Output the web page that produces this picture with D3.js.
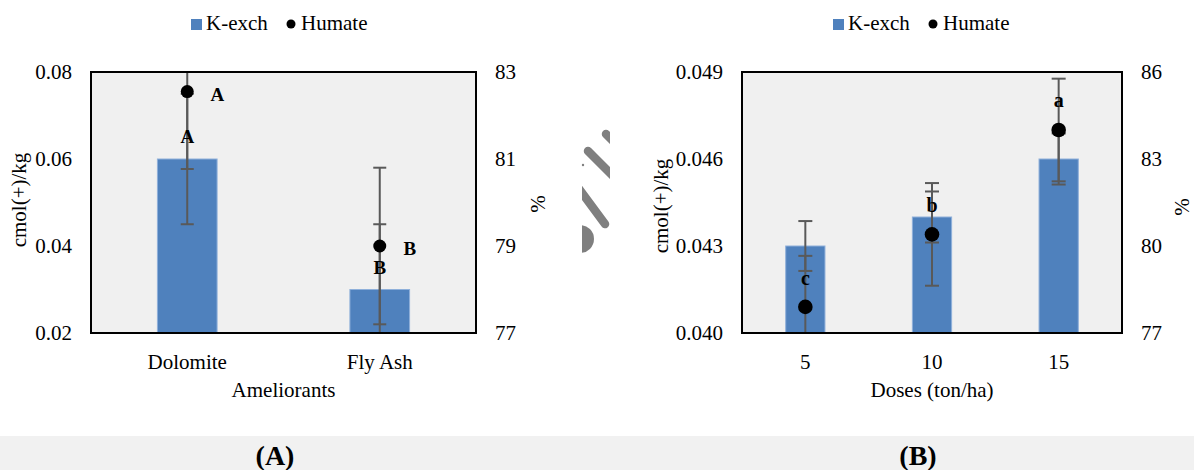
<!DOCTYPE html>
<html>
<head>
<meta charset="utf-8">
<script src="https://cdn.jsdelivr.net/npm/d3@7"></script>
<style>
  html, body { margin: 0; padding: 0; background: #fff; }
  svg { display: block; }
  text { font-family: "Liberation Serif", "Times New Roman", serif; fill: #000; }
</style>
</head>
<body>
<svg id="fig" width="1194" height="470"></svg>
<script>
// ---- Panel A: ameliorants ----
const ameliorants = ["Dolomite", "Fly Ash"];
const kExchA = [0.06, 0.03];
const kExchErrA = [0.015, 0.015];
const humateA = [82.55, 79.0];
const humateErrA = [1.78, 1.8];
const kLetterA = ["A", "B"];
const hLetterA = ["A", "B"];
const leftTicksA = [0.02, 0.04, 0.06, 0.08];
const rightTicksA = [77, 79, 81, 83];

// ---- Panel B: doses ----
const doses = ["5", "10", "15"];
const kExchB = [0.043, 0.044, 0.046];
const kExchErrB = [0.00086, 0.00088, 0.00088];
const humateB = [77.9, 80.4, 84.0];
const humateErrB = [1.76, 1.77, 1.77];
const hLetterB = ["c", "b", "a"];
const leftTicksB = [0.040, 0.043, 0.046, 0.049];
const rightTicksB = [77, 80, 83, 86];

const svg = d3.select("#fig");
const BAR = "#4f81bd", ERR = "#595959";

// caption strip along the bottom
svg.append("rect").attr("x", 0).attr("y", 436).attr("width", 1194).attr("height", 34).attr("fill", "#f1f1f1");

function panel(o) {
  const g = svg.append("g");
  const { x0, x1, y0, y1 } = o.box;
  const x = d3.scaleBand().domain(o.cats).range([x0, x1]).paddingInner(0.69).paddingOuter(0.345);
  const yL = d3.scaleLinear().domain(d3.extent(o.leftTicks)).range([y1, y0]);
  const yR = d3.scaleLinear().domain(d3.extent(o.rightTicks)).range([y1, y0]);

  const clipId = "clip" + o.id;
  svg.append("defs").append("clipPath").attr("id", clipId)
    .append("rect").attr("x", x0).attr("y", y0).attr("width", x1 - x0).attr("height", y1 - y0);

  g.append("rect").attr("x", x0).attr("y", y0).attr("width", x1 - x0).attr("height", y1 - y0).attr("fill", "#f0f0f0");

  const inner = g.append("g").attr("clip-path", `url(#${clipId})`);
  const cx = d => x(d) + x.bandwidth() / 2;

  // K-exch bars
  inner.selectAll("rect.bar").data(o.cats).join("rect").attr("class", "bar")
    .attr("x", d => x(d)).attr("width", x.bandwidth())
    .attr("y", (d, i) => yL(o.k[i])).attr("height", (d, i) => y1 - yL(o.k[i]))
    .attr("fill", BAR).attr("stroke", "#8fb0da").attr("stroke-width", 1);

  // error bars (K-exch on left scale, Humate on right scale)
  function errBars(vals, errs, sc) {
    o.cats.forEach((c, i) => {
      const lo = sc(vals[i] - errs[i]), hi = sc(vals[i] + errs[i]), X = cx(c);
      inner.append("line").attr("x1", X).attr("x2", X).attr("y1", lo).attr("y2", hi)
        .attr("stroke", ERR).attr("stroke-width", 2);
      [lo, hi].forEach(yy => inner.append("line").attr("x1", X - o.cap / 2).attr("x2", X + o.cap / 2)
        .attr("y1", yy).attr("y2", yy).attr("stroke", ERR).attr("stroke-width", 2));
    });
  }
  errBars(o.k, o.kErr, yL);
  errBars(o.h, o.hErr, yR);

  // Humate points
  inner.selectAll("circle.hum").data(o.cats).join("circle").attr("class", "hum")
    .attr("cx", cx).attr("cy", (d, i) => yR(o.h[i])).attr("r", o.r).attr("fill", "#000");

  // significance letters
  if (o.kLetters) o.cats.forEach((c, i) => g.append("text")
    .attr("x", cx(c)).attr("y", yL(o.k[i]) + o.kLetterDy[i]).attr("text-anchor", "middle")
    .attr("font-weight", "bold").attr("font-size", 19).text(o.kLetters[i]));
  o.cats.forEach((c, i) => g.append("text")
    .attr("x", cx(c) + o.hLetterDx[i]).attr("y", yR(o.h[i]) + o.hLetterDy[i]).attr("text-anchor", "middle")
    .attr("font-weight", "bold").attr("font-size", o.letterSize).text(o.hLetters[i]));

  // frame
  g.append("rect").attr("x", x0).attr("y", y0).attr("width", x1 - x0).attr("height", y1 - y0)
    .attr("fill", "none").attr("stroke", "#000").attr("stroke-width", 2);

  // axes
  const aL = g.append("g").attr("transform", `translate(${x0},0)`)
    .call(d3.axisLeft(yL).tickValues(o.leftTicks).tickFormat(d3.format(o.leftFmt)).tickSize(0).tickPadding(19));
  const aR = g.append("g").attr("transform", `translate(${x1},0)`)
    .call(d3.axisRight(yR).tickValues(o.rightTicks).tickFormat(d3.format("d")).tickSize(0).tickPadding(19));
  const aB = g.append("g").attr("transform", `translate(0,${y1})`)
    .call(d3.axisBottom(x).tickSize(0).tickPadding(21));
  [aL, aR, aB].forEach(a => {
    a.attr("font-family", null).attr("font-size", null);
    a.select(".domain").remove();
    a.selectAll("text").attr("font-size", 21).attr("fill", "#000");
  });

  // axis titles
  g.append("text").attr("x", (x0 + x1) / 2).attr("y", 397).attr("text-anchor", "middle")
    .attr("font-size", 21).text(o.xTitle);
  g.append("text").attr("transform", `translate(${o.yTitleX},${o.yTitleY}) rotate(-90)`)
    .attr("text-anchor", "middle").attr("font-size", 21).text("cmol(+)/kg");
  g.append("text").attr("transform", `translate(${o.pctX},${o.pctY}) rotate(-90)`)
    .attr("text-anchor", "middle").attr("font-size", 21).text("%");

  // legend
  const lg = g.append("g").attr("transform", `translate(${o.legendX},0)`);
  lg.append("rect").attr("x", 0).attr("y", 19).attr("width", 11).attr("height", 11).attr("fill", BAR);
  lg.append("text").attr("x", 15).attr("y", 30).attr("font-size", 21).text("K-exch");
  lg.append("circle").attr("cx", 100).attr("cy", 24).attr("r", 4.5).attr("fill", "#000");
  lg.append("text").attr("x", 110).attr("y", 30).attr("font-size", 21).text("Humate");

  // panel caption
  svg.append("text").attr("x", o.capX).attr("y", 465).attr("text-anchor", "middle")
    .attr("font-weight", "bold").attr("font-size", 28).text(o.caption);
}

panel({
  id: "A", box: { x0: 91, x1: 476, y0: 72, y1: 333 }, cats: ameliorants,
  k: kExchA, kErr: kExchErrA, h: humateA, hErr: humateErrA,
  kLetters: kLetterA, kLetterDy: [-16, -16],
  hLetters: hLetterA, hLetterDx: [30, 30], hLetterDy: [9, 9], letterSize: 19,
  leftTicks: leftTicksA, rightTicks: rightTicksA, leftFmt: ".2f",
  cap: 13, r: 6.5, xTitle: "Ameliorants",
  yTitleX: 26, yTitleY: 200, pctX: 545, pctY: 204, legendX: 191, capX: 275, caption: "(A)"
});

panel({
  id: "B", box: { x0: 742, x1: 1122, y0: 72, y1: 333 }, cats: doses,
  k: kExchB, kErr: kExchErrB, h: humateB, hErr: humateErrB,
  kLetters: null, kLetterDy: null,
  hLetters: hLetterB, hLetterDx: [0, 0, 0], hLetterDy: [-22, -22, -23], letterSize: 20,
  leftTicks: leftTicksB, rightTicks: rightTicksB, leftFmt: ".3f",
  cap: 14, r: 7.3, xTitle: "Doses (ton/ha)",
  yTitleX: 668, yTitleY: 206, pctX: 1189, pctY: 207, legendX: 833, capX: 918, caption: "(B)"
});

// clipped grey glyph fragments between the two panels
const frag = svg.append("g");
svg.append("defs").append("clipPath").attr("id", "fragClip")
  .append("rect").attr("x", 582).attr("y", 100).attr("width", 28).attr("height", 170);
const fg = frag.append("g").attr("clip-path", "url(#fragClip)").attr("stroke", "#7f7f7f")
  .attr("stroke-width", 8.5).attr("stroke-linecap", "round").attr("fill", "none");
fg.append("line").attr("x1", 606).attr("y1", 134).attr("x2", 630).attr("y2", 158);
fg.append("line").attr("x1", 588).attr("y1", 151).attr("x2", 630).attr("y2", 193);
fg.append("line").attr("x1", 568).attr("y1", 174).attr("x2", 605).attr("y2", 224);
frag.append("g").attr("clip-path", "url(#fragClip)").append("ellipse")
  .attr("cx", 580).attr("cy", 239).attr("rx", 14).attr("ry", 14).attr("fill", "#7f7f7f");
frag.append("circle").attr("cx", 583).attr("cy", 165).attr("r", 1.2).attr("fill", "#7f7f7f");
</script>
</body>
</html>
